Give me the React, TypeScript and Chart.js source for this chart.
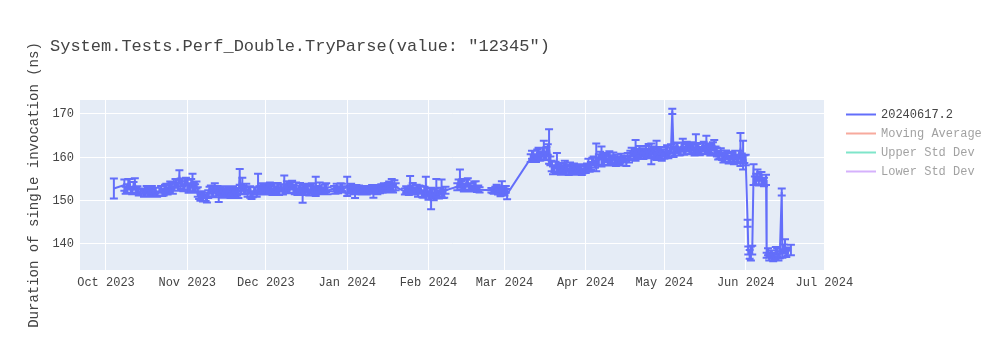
import { useEffect, useRef } from 'react';
import { Chart, registerables } from 'chart.js';

Chart.register(...registerables);

const FONT = '"Liberation Mono", "Courier New", monospace';
const TEXT_COLOR = '#444444';

const TITLE = 'System.Tests.Perf_Double.TryParse(value: "12345")';
const Y_TITLE = 'Duration of single invocation (ns)';

const SERIES_LABELS = ['20240617.2', 'Moving Average', 'Upper Std Dev', 'Lower Std Dev'];
const SERIES_COLORS = ['#636efa', '#EF553B', '#00cc96', '#ab63fa'];
const SERIES_HIDDEN = [false, true, true, true];

const MONTH_TICKS = [
  '2023-10-01', '2023-11-01', '2023-12-01', '2024-01-01', '2024-02-01',
  '2024-03-01', '2024-04-01', '2024-05-01', '2024-06-01', '2024-07-01',
];
const MONTH_LABELS = [
  'Oct 2023', 'Nov 2023', 'Dec 2023', 'Jan 2024', 'Feb 2024',
  'Mar 2024', 'Apr 2024', 'May 2024', 'Jun 2024', 'Jul 2024',
];
const Y_TICKS = [140, 150, 160, 170];
const X_RANGE = ['2023-09-21T02', '2024-07-01T06'];
const Y_RANGE = [134.0, 173.23];
const SECOND_RUN_HOURS = 12;

// run dates (first run of the day)
const dates = [
  // Oct 2023
  '2023-10-04', '2023-10-08', '2023-10-09', '2023-10-10', '2023-10-11', '2023-10-12', '2023-10-13',
  '2023-10-15', '2023-10-16', '2023-10-17', '2023-10-18', '2023-10-19', '2023-10-20', '2023-10-22',
  '2023-10-23', '2023-10-24', '2023-10-25', '2023-10-26', '2023-10-27', '2023-10-28', '2023-10-29',
  '2023-10-30', '2023-10-31',
  // Nov 2023
  '2023-11-01', '2023-11-02', '2023-11-03', '2023-11-04', '2023-11-05', '2023-11-06', '2023-11-07',
  '2023-11-08', '2023-11-09', '2023-11-10', '2023-11-11', '2023-11-12', '2023-11-13', '2023-11-14',
  '2023-11-15', '2023-11-16', '2023-11-17', '2023-11-18', '2023-11-19', '2023-11-20', '2023-11-21',
  '2023-11-22', '2023-11-23', '2023-11-24', '2023-11-25', '2023-11-26', '2023-11-27', '2023-11-28',
  '2023-11-29', '2023-11-30',
  // Dec 2023
  '2023-12-01', '2023-12-02', '2023-12-03', '2023-12-04', '2023-12-05', '2023-12-06', '2023-12-07',
  '2023-12-08', '2023-12-09', '2023-12-10', '2023-12-11', '2023-12-12', '2023-12-13', '2023-12-14',
  '2023-12-15', '2023-12-16', '2023-12-17', '2023-12-18', '2023-12-19', '2023-12-20', '2023-12-21',
  '2023-12-22', '2023-12-23', '2023-12-24', '2023-12-27', '2023-12-28', '2023-12-29', '2023-12-30',
  // Jan 2024
  '2024-01-01', '2024-01-02', '2024-01-03', '2024-01-04', '2024-01-05', '2024-01-06', '2024-01-07',
  '2024-01-08', '2024-01-09', '2024-01-10', '2024-01-11', '2024-01-12', '2024-01-13', '2024-01-14',
  '2024-01-15', '2024-01-16', '2024-01-17', '2024-01-18', '2024-01-19',
  '2024-01-23', '2024-01-24', '2024-01-25', '2024-01-26', '2024-01-27', '2024-01-28', '2024-01-29',
  '2024-01-30', '2024-01-31',
  // Feb 2024
  '2024-02-01', '2024-02-02', '2024-02-03', '2024-02-04', '2024-02-05', '2024-02-06', '2024-02-07',
  '2024-02-12', '2024-02-13', '2024-02-14', '2024-02-15', '2024-02-16', '2024-02-17', '2024-02-18',
  '2024-02-19', '2024-02-20',
  '2024-02-25', '2024-02-26', '2024-02-27', '2024-02-28', '2024-02-29',
  // Mar 2024
  '2024-03-01', '2024-03-02',
  '2024-03-11', '2024-03-12', '2024-03-13', '2024-03-14', '2024-03-15', '2024-03-16', '2024-03-17',
  '2024-03-18', '2024-03-19', '2024-03-20', '2024-03-21', '2024-03-22', '2024-03-23', '2024-03-24',
  '2024-03-25', '2024-03-26', '2024-03-27', '2024-03-28', '2024-03-29', '2024-03-30', '2024-03-31',
  // Apr 2024
  '2024-04-01', '2024-04-02', '2024-04-03', '2024-04-04', '2024-04-05', '2024-04-06', '2024-04-07',
  '2024-04-08', '2024-04-09', '2024-04-10', '2024-04-11', '2024-04-12', '2024-04-13', '2024-04-14',
  '2024-04-15', '2024-04-16', '2024-04-17', '2024-04-18', '2024-04-19', '2024-04-20', '2024-04-21',
  '2024-04-22', '2024-04-23', '2024-04-24', '2024-04-25', '2024-04-26', '2024-04-27', '2024-04-28',
  '2024-04-29', '2024-04-30',
  // May 2024
  '2024-05-01', '2024-05-02', '2024-05-03', '2024-05-04', '2024-05-05', '2024-05-06', '2024-05-07',
  '2024-05-08', '2024-05-09', '2024-05-10', '2024-05-11', '2024-05-12', '2024-05-13', '2024-05-14',
  '2024-05-15', '2024-05-16', '2024-05-17', '2024-05-18', '2024-05-19', '2024-05-20', '2024-05-21',
  '2024-05-22', '2024-05-23', '2024-05-24', '2024-05-25', '2024-05-26', '2024-05-27', '2024-05-28',
  '2024-05-29', '2024-05-30', '2024-05-31',
  // Jun 2024
  '2024-06-01', '2024-06-01T18', '2024-06-02', '2024-06-03', '2024-06-03T12', '2024-06-04', '2024-06-05',
  '2024-06-06', '2024-06-07', '2024-06-08', '2024-06-08T18', '2024-06-09', '2024-06-10', '2024-06-11',
  '2024-06-12', '2024-06-13', '2024-06-14', '2024-06-14T18', '2024-06-15', '2024-06-16', '2024-06-17',
  '2024-06-18T06',
];

// mean duration (ns), first run
const means = [
  // Oct
  152.8, 153.6, 152.8, 153.8, 152.3, 154.0, 152.6, 152.2, 151.8, 152.4, 152.0, 151.6, 152.1, 152.6,
  152.0, 153.0, 152.7, 153.4, 153.1, 154.0, 155.5, 154.2, 153.5,
  // Nov
  153.6, 153.0, 154.2, 152.8, 152.0, 150.8, 150.4, 150.6, 151.5, 152.6, 152.2, 151.8, 151.2, 152.4,
  151.9, 151.6, 152.1, 151.7, 151.5, 152.0, 155.5, 153.8, 152.4, 151.7, 152.0, 151.5, 152.3, 153.8,
  152.6, 152.9,
  // Dec
  153.2, 152.6, 152.8, 153.1, 152.4, 152.2, 152.9, 154.0, 153.5, 152.9, 153.6, 152.5, 152.0, 153.0,
  151.5, 152.3, 152.8, 152.5, 153.0, 153.3, 152.6, 152.6, 152.5, 153.0, 152.8, 153.0, 152.6, 153.1,
  // Jan
  153.3, 152.6, 152.9, 152.0, 152.4, 152.6, 152.3, 152.5, 152.8, 152.4, 152.0, 152.7, 152.9, 153.0,
  153.2, 152.8, 153.4, 153.6, 153.9,
  152.1, 152.4, 153.6, 152.9, 152.2, 151.8, 152.5, 151.5, 153.4,
  // Feb
  151.2, 150.5, 151.0, 152.8, 151.3, 152.9, 151.6,
  153.2, 155.2, 153.8, 153.0, 154.2, 153.3, 152.9, 153.5, 152.8,
  152.4, 152.2, 152.9, 152.5, 153.0,
  // Mar
  152.0, 151.5,
  159.8, 160.5, 159.7, 161.0, 160.3, 161.6, 160.9, 162.5, 158.0, 157.4, 158.6, 157.6, 157.2, 158.0,
  157.5, 157.8, 157.1, 157.4, 157.0, 157.3, 156.9,
  // Apr
  157.2, 158.5, 158.0, 159.2, 160.0, 159.5, 160.2, 159.3, 159.8, 160.4, 159.6, 159.2, 159.8, 159.4,
  158.9, 159.5, 160.2, 160.6, 161.2, 161.6, 161.0, 160.6, 160.4, 161.4, 161.8, 160.8, 161.2, 161.6,
  160.7, 160.2,
  // May
  160.5, 161.8, 161.2, 170.6, 161.5, 162.2, 161.4, 162.8, 161.9, 162.4, 161.7, 162.0, 163.0, 162.3,
  161.6, 162.5, 163.2, 162.0, 161.8, 162.4, 161.2, 160.6, 160.2, 159.8, 160.4, 159.6, 160.0, 160.5,
  159.5, 161.8, 160.5,
  // Jun
  159.4, 144.8, 138.5, 137.8, 138.6, 156.0, 155.0, 154.5, 155.2, 154.3, 154.8, 137.4, 137.0, 137.6,
  137.2, 138.0, 137.5, 152.0, 137.8, 139.5, 138.3, 138.6,
];

// error bar half-widths (ns), first run
const errors = [
  // Oct
  2.3, 1.3, 1.0, 1.2, 0.8, 1.2, 0.7, 0.6, 0.8, 0.7, 0.7, 0.6, 0.9, 0.8,
  0.8, 0.9, 0.8, 0.9, 0.8, 0.8, 1.5, 0.9, 1.0,
  // Nov
  1.2, 1.0, 2.0, 1.0, 1.1, 0.8, 0.6, 0.7, 0.9, 0.9, 1.2, 1.0, 1.5, 0.9,
  0.8, 0.8, 0.7, 0.7, 0.6, 0.8, 1.8, 1.5, 0.9, 0.8, 1.3, 0.7, 0.8, 2.4,
  0.8, 0.9,
  // Dec
  0.8, 0.7, 0.8, 0.8, 0.7, 0.9, 0.8, 1.8, 1.0, 1.2, 1.0, 1.0, 0.7, 1.1,
  2.0, 1.0, 0.9, 0.8, 0.9, 2.2, 0.8, 0.5, 0.6, 1.0, 0.6, 0.9, 0.7, 0.8,
  // Jan
  2.2, 0.8, 0.7, 1.4, 0.6, 0.7, 0.6, 0.7, 0.6, 0.8, 1.3, 0.8, 0.7, 0.8,
  0.8, 0.9, 1.0, 1.4, 0.8,
  0.7, 0.8, 2.1, 1.2, 0.8, 0.9, 0.9, 0.8, 2.1,
  // Feb
  1.0, 2.5, 0.9, 2.2, 0.8, 2.0, 0.9,
  0.8, 2.0, 1.2, 0.8, 1.0, 0.7, 0.6, 1.0, 0.7,
  0.5, 0.6, 0.8, 0.8, 1.5,
  // Mar
  0.8, 1.2,
  0.9, 1.0, 0.8, 1.2, 1.0, 2.2, 1.5, 4.0, 1.2, 0.8, 2.4, 0.9, 0.8, 1.2,
  0.8, 1.0, 0.7, 0.8, 0.7, 0.8, 0.6,
  // Apr
  0.8, 1.2, 0.9, 1.0, 3.2, 1.2, 2.3, 1.0, 0.9, 1.0, 0.9, 0.8, 0.8, 0.7,
  0.8, 0.7, 0.8, 0.9, 1.0, 2.4, 1.0, 0.9, 0.8, 1.2, 1.3, 2.4, 1.0, 2.2,
  1.0, 1.0,
  // May
  0.8, 1.0, 1.0, 0.6, 1.0, 1.2, 0.9, 1.5, 1.2, 1.0, 0.9, 1.0, 2.3, 1.0,
  0.8, 1.1, 1.8, 1.0, 0.9, 1.6, 1.0, 0.9, 0.8, 0.9, 0.9, 0.8, 1.0, 1.0,
  0.9, 3.8, 3.3,
  // Jun
  1.2, 0.8, 0.9, 1.6, 1.0, 2.4, 1.2, 1.0, 1.4, 1.0, 1.2, 0.6, 0.8, 0.9,
  0.7, 1.0, 0.8, 0.8, 1.0, 1.6, 0.9, 1.2,
];

// mean duration (ns), second run of the same day (null = no second run)
const means2 = [
  // Oct
  null, 152.4, 153.9, 152.5, 153.4, 152.4, 151.9, 151.5, 152.6, 151.6, 152.5, 152.3, 151.5, 151.8,
  152.8, 152.2, 153.5, 152.4, 154.0, 153.2, 153.9, 153.0, 154.4,
  // Nov
  152.7, 154.0, 153.1, 153.6, 151.2, 151.5, 151.2, 150.2, 152.4, 151.8, 153.0, 152.6, 152.1, 151.6,
  152.6, 152.4, 151.3, 152.5, 152.2, 151.4, 152.6, 152.5, 153.1, 152.4, 151.2, 152.3, 151.6, 152.4,
  153.2, 152.2,
  // Dec
  152.4, 153.4, 152.0, 152.5, 153.2, 153.0, 152.1, 152.8, 152.6, 153.7, 152.7, 153.4, 152.8, 152.2,
  152.7, 153.1, 151.9, 153.2, 152.2, 152.4, 153.4, 152.1, 153.0, 152.3, 152.2, 152.4, 153.2, 152.6,
  // Jan
  152.4, 153.2, 152.2, 152.8, 152.9, 152.1, 152.8, 152.1, 152.3, 152.9, 152.7, 152.2, 152.4, 152.6,
  152.7, 153.3, 152.9, 152.8, 153.2,
  152.6, 152.0, 152.6, 152.2, 152.9, 152.6, 151.6, 152.4, 152.0,
  // Feb
  152.0, 151.6, 151.9, 151.4, 152.2, 151.5, 152.4,
  154.0, 153.5, 153.0, 154.0, 153.1, 152.8, 153.6, 152.7, 152.5,
  152.2, 152.6, 152.1, 151.8, 152.3,
  // Mar
  152.6, null,
  160.6, 159.9, 160.8, 160.1, 161.2, 160.4, 161.8, 159.2, 157.0, 158.2, 157.3, 156.8, 157.9, 157.0,
  156.6, 157.2, 157.8, 156.7, 157.6, 156.6, 157.5,
  // Apr
  157.8, 157.6, 159.0, 158.4, 159.0, 160.4, 159.1, 160.1, 158.9, 159.4, 160.3, 158.8, 159.1, 160.0,
  159.6, 158.8, 159.6, 161.3, 160.5, 160.8, 161.7, 161.3, 161.1, 160.7, 160.9, 161.6, 160.5, 160.9,
  161.5, 161.0,
  // May
  161.4, 160.7, 162.0, 161.0, 162.3, 161.3, 162.4, 161.5, 162.6, 161.6, 162.5, 161.3, 162.1, 161.4,
  162.4, 161.7, 162.2, 161.3, 162.6, 161.5, 160.4, 161.3, 159.6, 160.7, 159.5, 160.3, 159.3, 159.8,
  160.6, 159.9, 159.6,
  // Jun
  null, null, 137.6, null, null, 154.6, 156.0, 155.6, 154.4, null, null, 138.2, 137.8, 136.8,
  138.4, 137.0, null, null, 138.9, 137.9, null, null,
];

// error bar half-widths (ns), second run
const errors2 = [
  // Oct
  null, 0.8, 1.1, 0.7, 0.9, 0.8, 0.7, 0.6, 0.8, 0.7, 0.9, 0.7, 0.6, 0.7,
  0.9, 0.8, 0.9, 0.8, 1.0, 0.9, 1.2, 0.8, 0.9,
  // Nov
  0.9, 1.0, 0.9, 0.8, 0.8, 0.7, 0.6, 0.6, 0.8, 0.9, 1.0, 0.8, 0.8, 0.9,
  0.7, 0.8, 0.7, 0.8, 0.7, 0.8, 1.0, 0.9, 0.8, 0.7, 0.8, 0.8, 0.7, 0.9,
  0.8, 0.8,
  // Dec
  0.8, 0.8, 0.7, 0.8, 0.9, 0.8, 0.7, 1.0, 0.9, 0.8, 0.9, 0.8, 0.7, 0.8,
  0.9, 0.8, 0.7, 0.8, 0.8, 0.9, 0.8, 0.6, 0.7, 0.8, 0.6, 0.7, 0.8, 0.7,
  // Jan
  0.8, 0.7, 0.7, 0.8, 0.6, 0.7, 0.6, 0.7, 0.6, 0.7, 0.8, 0.7, 0.7, 0.8,
  0.7, 0.8, 0.8, 0.9, 0.8,
  0.7, 0.7, 0.9, 0.8, 0.8, 0.9, 0.8, 0.8, 1.0,
  // Feb
  0.9, 1.0, 0.9, 0.9, 0.8, 0.9, 0.8,
  0.9, 1.0, 0.9, 0.8, 0.9, 0.7, 0.8, 0.7, 0.6,
  0.5, 0.6, 0.7, 0.8, 0.9,
  // Mar
  0.8, null,
  0.9, 0.8, 1.0, 0.9, 1.0, 0.9, 1.2, 1.0, 0.9, 0.8, 0.9, 0.8, 0.8, 0.9,
  0.7, 0.8, 0.8, 0.7, 0.8, 0.7, 0.8,
  // Apr
  0.8, 0.9, 0.9, 0.8, 0.9, 0.9, 0.8, 0.9, 0.8, 0.9, 0.8, 0.8, 0.7, 0.8,
  0.7, 0.8, 0.8, 0.9, 0.9, 1.0, 0.9, 0.8, 0.8, 0.9, 1.0, 0.9, 0.9, 1.0,
  0.9, 0.8,
  // May
  0.9, 0.9, 1.0, 0.9, 1.0, 0.9, 1.0, 0.9, 1.0, 0.9, 1.0, 0.9, 1.0, 0.9,
  0.9, 1.0, 1.0, 0.9, 0.9, 1.0, 0.9, 0.8, 0.8, 0.9, 0.9, 0.8, 0.9, 0.8,
  0.9, 1.0, 0.9,
  // Jun
  null, null, 1.0, null, null, 1.0, 1.2, 1.0, 0.9, null, null, 0.8, 0.7, 0.8,
  0.9, 0.8, null, null, 1.0, 0.9, null, null,
];

// days since 2023-10-01 (UTC)
function toDays(s: string): number {
  const [d, h] = s.split('T');
  const [y, m, dd] = d.split('-').map(Number);
  return (Date.UTC(y, m - 1, dd, h ? Number(h) : 0) - Date.UTC(2023, 9, 1)) / 86400000;
}

const fade = (hex: string, a: number) => {
  const n = parseInt(hex.slice(1), 16);
  return `rgba(${(n >> 16) & 255}, ${(n >> 8) & 255}, ${n & 255}, ${a})`;
};

const plotBgPlugin = {
  id: 'plotBg',
  beforeDraw(chart: any) {
    const { ctx, chartArea: a } = chart;
    ctx.save();
    ctx.fillStyle = '#E5ECF6';
    ctx.fillRect(a.left, a.top, a.right - a.left, a.bottom - a.top);
    ctx.restore();
  },
};

const errorBarPlugin = {
  id: 'errorBars',
  beforeDatasetsDraw(chart: any) {
    const { ctx, chartArea: a } = chart;
    const xs = chart.scales.x;
    const ys = chart.scales.y;
    const ds = chart.data.datasets[0];
    ctx.save();
    ctx.beginPath();
    ctx.rect(a.left, a.top, a.right - a.left, a.bottom - a.top);
    ctx.clip();
    ctx.strokeStyle = ds.borderColor;
    ctx.lineWidth = 2;
    ctx.beginPath();
    ds.data.forEach((p: any) => {
      const x = xs.getPixelForValue(p.x);
      const yt = ys.getPixelForValue(p.y + p.err);
      const yb = ys.getPixelForValue(p.y - p.err);
      ctx.moveTo(x, yt);
      ctx.lineTo(x, yb);
      ctx.moveTo(x - 4, yt);
      ctx.lineTo(x + 4, yt);
      ctx.moveTo(x - 4, yb);
      ctx.lineTo(x + 4, yb);
    });
    ctx.stroke();
    ctx.restore();
  },
};

const titleLegendPlugin = {
  id: 'titleLegend',
  afterDraw(chart: any) {
    const { ctx } = chart;
    ctx.save();
    ctx.font = `17px ${FONT}`;
    ctx.fillStyle = TEXT_COLOR;
    ctx.textBaseline = 'middle';
    ctx.textAlign = 'left';
    ctx.fillText(TITLE, 50, 46);

    ctx.font = `12px ${FONT}`;
    chart.data.datasets.forEach((ds: any, i: number) => {
      const y = 114.5 + i * 19;
      const hidden = ds.legendOnly;
      ctx.strokeStyle = hidden ? fade(ds.borderColor, 0.5) : ds.borderColor;
      ctx.lineWidth = 2;
      ctx.beginPath();
      ctx.moveTo(846, y);
      ctx.lineTo(876, y);
      ctx.stroke();
      ctx.fillStyle = hidden ? fade(TEXT_COLOR, 0.5) : TEXT_COLOR;
      ctx.fillText(ds.label, 881, y + 0.5);
    });
    ctx.restore();
  },
};

export default function App() {
  const ref = useRef<HTMLCanvasElement>(null);

  useEffect(() => {
    const tickDays = MONTH_TICKS.map(toDays);
    const points: { x: number; y: number; err: number }[] = [];
    dates.forEach((d, i) => {
      const x = toDays(d);
      points.push({ x, y: means[i], err: errors[i] });
      const m2 = means2[i];
      const e2 = errors2[i];
      if (m2 != null && e2 != null) {
        points.push({ x: x + SECOND_RUN_HOURS / 24, y: m2, err: e2 });
      }
    });
    points.sort((a, b) => a.x - b.x);

    const datasets: any[] = SERIES_LABELS.map((label, i) => ({
      label,
      data: i === 0 ? points : [],
      legendOnly: SERIES_HIDDEN[i],
      borderColor: SERIES_COLORS[i],
      backgroundColor: SERIES_COLORS[i],
      borderWidth: 2,
      pointRadius: 0,
      pointHoverRadius: 0,
      tension: 0,
    }));

    const chart = new Chart(ref.current!, {
      type: 'line',
      data: { datasets },
      plugins: [plotBgPlugin, errorBarPlugin, titleLegendPlugin],
      options: {
        animation: false,
        responsive: false,
        maintainAspectRatio: false,
        parsing: false as any,
        layout: { padding: { top: 100, right: 175, bottom: 0, left: 0 } },
        plugins: {
          legend: { display: false },
          title: { display: false },
          tooltip: { enabled: false },
        },
        scales: {
          x: {
            type: 'linear',
            min: toDays(X_RANGE[0]),
            max: toDays(X_RANGE[1]),
            afterBuildTicks: (s: any) => {
              s.ticks = tickDays.map((v) => ({ value: v }));
            },
            afterFit: (s: any) => {
              s.height = 80;
            },
            ticks: {
              autoSkip: false,
              maxRotation: 0,
              minRotation: 0,
              padding: 6,
              color: TEXT_COLOR,
              font: { family: FONT, size: 12 },
              callback: (v: any) => {
                const idx = tickDays.findIndex((t) => Math.abs(t - Number(v)) < 1e-6);
                return idx >= 0 ? MONTH_LABELS[idx] : '';
              },
            },
            grid: { color: '#ffffff', lineWidth: 1, drawTicks: false },
            border: { display: false },
          },
          y: {
            type: 'linear',
            min: Y_RANGE[0],
            max: Y_RANGE[1],
            afterBuildTicks: (s: any) => {
              s.ticks = Y_TICKS.map((v) => ({ value: v }));
            },
            afterFit: (s: any) => {
              s.width = 80;
            },
            ticks: {
              padding: 6,
              color: TEXT_COLOR,
              font: { family: FONT, size: 12 },
              callback: (v: any) => String(v),
            },
            grid: { color: '#ffffff', lineWidth: 1, drawTicks: false },
            border: { display: false },
            title: {
              display: true,
              text: Y_TITLE,
              color: TEXT_COLOR,
              font: { family: FONT, size: 14 },
              padding: { top: 26, bottom: 0 },
            },
          },
        },
      },
    });
    return () => chart.destroy();
  }, []);

  return (
    <div style={{ position: 'absolute', left: 0, top: 0, width: 1000, height: 350 }}>
      <canvas ref={ref} width={1000} height={350} style={{ display: 'block' }} />
    </div>
  );
}
